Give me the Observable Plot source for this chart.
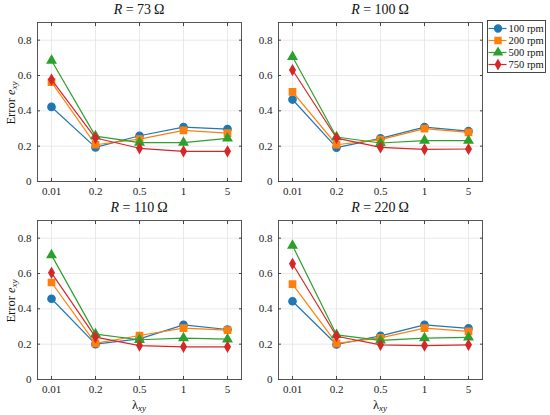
<!DOCTYPE html>
<html><head><meta charset="utf-8">
<script src="https://cdn.jsdelivr.net/npm/d3@7"></script>
<script src="https://cdn.jsdelivr.net/npm/@observablehq/plot@0.6"></script>
<style>
body{margin:0;background:#fff;}
#wrap{position:relative;width:550px;height:415px;font-family:"Times New Roman","Liberation Serif",Times,serif;color:#111;overflow:hidden;}
.abs{position:absolute;}
.title{position:absolute;font-size:14px;line-height:16px;text-align:center;width:204px;white-space:nowrap;font-weight:normal;}
.ylab{position:absolute;font-size:12.5px;white-space:nowrap;transform:translate(-50%,-50%) rotate(-90deg);}
.xlab{position:absolute;font-size:12.5px;white-space:nowrap;transform:translate(-50%,-50%);}
sub{font-size:9px;vertical-align:-2px;line-height:0;}
</style></head><body><div id="wrap"></div>
<script>
const lambdas = ["0.01","0.2","0.5","1","5"];
const speeds = ["100 rpm","200 rpm","500 rpm","750 rpm"];
const colors = ["#1f77b4","#ff7f0e","#2ca02c","#d62728"];
const symbols = ["circle","square","triangle","diamond"];
const resistances = [73,100,110,220];
const yTicks = [0,0.2,0.4,0.6,0.8];

// R = 73 Ω
const e73_100 = [0.422,0.193,0.259,0.308,0.297];
const e73_200 = [0.563,0.208,0.240,0.289,0.274];
const e73_500 = [0.685,0.257,0.220,0.220,0.244];
const e73_750 = [0.577,0.246,0.188,0.171,0.171];
// R = 100 Ω
const e100_100 = [0.464,0.192,0.244,0.308,0.285];
const e100_200 = [0.507,0.208,0.237,0.299,0.278];
const e100_500 = [0.706,0.252,0.218,0.231,0.231];
const e100_750 = [0.631,0.246,0.193,0.182,0.184];
// R = 110 Ω
const e110_100 = [0.457,0.200,0.230,0.309,0.283];
const e110_200 = [0.549,0.204,0.249,0.291,0.279];
const e110_500 = [0.704,0.257,0.225,0.234,0.228];
const e110_750 = [0.604,0.240,0.192,0.185,0.185];
// R = 220 Ω
const e220_100 = [0.443,0.198,0.247,0.309,0.289];
const e220_200 = [0.540,0.204,0.236,0.291,0.272];
const e220_500 = [0.758,0.253,0.221,0.234,0.238];
const e220_750 = [0.655,0.245,0.196,0.192,0.196];

const panelSeries = [
  [e73_100,e73_200,e73_500,e73_750],
  [e100_100,e100_200,e100_500,e100_750],
  [e110_100,e110_200,e110_500,e110_750],
  [e220_100,e220_200,e220_500,e220_750]
];

const markerR = [3.6, 3.5, 3.1, 2.8];

const wrap = document.getElementById("wrap");
const FONT = "'Times New Roman', 'Liberation Serif', Times, serif";

function panel(series, height, mb) {
  const marks = [
    Plot.gridX(lambdas, {stroke:"#e3e3e3", strokeOpacity:1, strokeWidth:0.8}),
    Plot.gridY(yTicks, {stroke:"#e3e3e3", strokeOpacity:1, strokeWidth:0.8})
  ];
  speeds.forEach((s, k) => {
    const rows = lambdas.map((l, i) => ({lambda: l, e: series[k][i], speed: s}));
    marks.push(Plot.line(rows, {x:"lambda", y:"e", stroke:"speed", strokeWidth:1.2}));
    marks.push(Plot.dot(rows, {x:"lambda", y:"e", fill:"speed", stroke:"speed", symbol:"speed", r: markerR[k]}));
  });
  marks.push(
    Plot.axisX({ticks: lambdas, tickSize:-3, tickPadding:9, label:null, stroke:"#444", fontSize: 11}),
    Plot.axisX({anchor:"top", ticks: lambdas, tickSize:-3, tickFormat:()=>"", label:null, stroke:"#444"}),
    Plot.axisY({ticks: yTicks, tickSize:-3, tickPadding:9, tickFormat:d=>String(d), label:null, stroke:"#444", fontSize: 11}),
    Plot.axisY({anchor:"right", ticks: yTicks, tickSize:-3, tickFormat:()=>"", label:null, stroke:"#444"}),
    Plot.frame({stroke:"#444", strokeWidth:0.9})
  );
  return Plot.plot({
    width: 245, height,
    marginLeft: 37, marginRight: 4, marginTop: 22, marginBottom: mb,
    style: {fontFamily: FONT, fontSize: "11px", color: "#222", background: "transparent", overflow: "visible"},
    x: {type: "point", domain: lambdas, padding: 0.3, label: null, axis: null},
    y: {domain: [0, 0.9], label: null, axis: null},
    color: {domain: speeds, range: colors},
    symbol: {domain: speeds, range: symbols},
    marks
  });
}

const pos = [
  {left:0, top:0, h:205, mb:24},
  {left:241, top:0, h:205, mb:24},
  {left:0, top:198, h:217, mb:36},
  {left:241, top:198, h:217, mb:36}
];

pos.forEach((p, i) => {
  const svg = panel(panelSeries[i], p.h, p.mb);
  svg.classList.add("abs");
  svg.style.left = p.left + "px";
  svg.style.top = p.top + "px";
  wrap.appendChild(svg);
  const t = document.createElement("div");
  t.className = "title";
  t.style.left = (p.left + 37) + "px";
  t.style.top = (p.top + 2) + "px";
  t.innerHTML = `<i>R</i> = ${resistances[i]}&#8201;Ω`;
  wrap.appendChild(t);
  if (i % 2 === 0) {
    const yl = document.createElement("div");
    yl.className = "ylab";
    yl.style.left = "11px";
    yl.style.top = (p.top + 103) + "px";
    yl.innerHTML = `Error <i>e</i><sub><i>xy</i></sub>`;
    wrap.appendChild(yl);
  }
  if (i >= 2) {
    const xl = document.createElement("div");
    xl.className = "xlab";
    xl.style.left = (p.left + 139) + "px";
    xl.style.top = "405px";
    xl.innerHTML = `λ<sub><i>xy</i></sub>`;
    wrap.appendChild(xl);
  }
});

// legend
const legRows = speeds.map((s, k) => ({speed: s, r: markerR[k] * 0.95}));
const legend = Plot.plot({
  width: 58, height: 52, margin: 0,
  style: {fontFamily: FONT, fontSize: "10.5px", color: "#111", background: "#fff", overflow: "visible"},
  x: {domain: [0, 58], range: [0, 58], axis: null},
  y: {type: "band", domain: speeds, range: [2, 50], padding: 0, axis: null},
  r: {type: "identity"},
  color: {domain: speeds, range: colors},
  symbol: {domain: speeds, range: symbols},
  marks: [
    Plot.ruleY(legRows, {y: "speed", x1: 1.5, x2: 19.5, stroke: "speed", strokeWidth: 1.2}),
    Plot.dot(legRows, {y: "speed", x: 10.5, fill: "speed", stroke: "speed", symbol: "speed", r: "r"}),
    Plot.text(legRows, {y: "speed", x: 21, text: "speed", textAnchor: "start", fill: "#111"}),
    Plot.frame({stroke: "#333", strokeWidth: 0.9})
  ]
});
legend.classList.add("abs");
legend.style.left = "487px";
legend.style.top = "20px";
wrap.appendChild(legend);
</script>
</body></html>
